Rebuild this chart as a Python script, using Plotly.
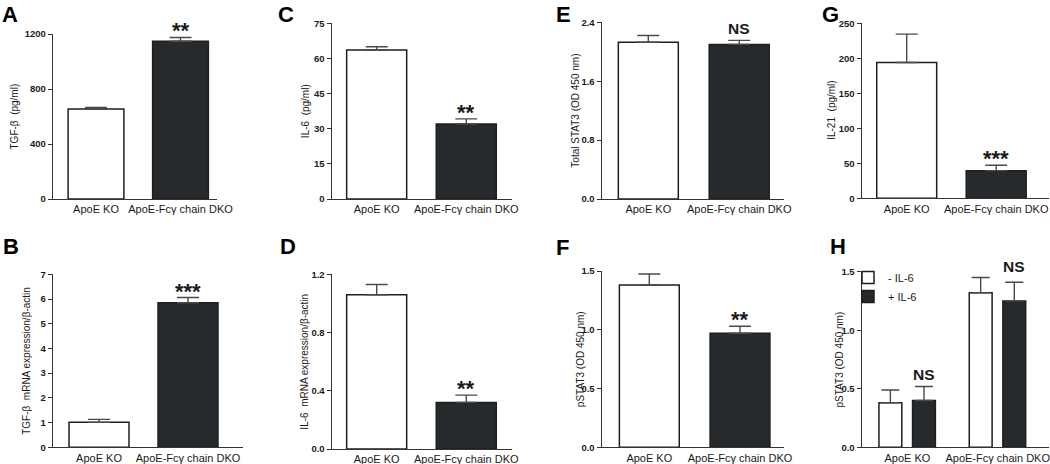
import plotly.graph_objects as go

# ---------------- data ----------------
categories = ["ApoE KO", "ApoE-Fcγ chain DKO"]

tgfb_protein = [655, 1147]          # A  TGF-β (pg/ml)
tgfb_protein_err = [10, 28]
tgfb_mrna = [1.01, 5.85]            # B  TGF-β mRNA expression/β-actin
tgfb_mrna_err = [0.12, 0.21]
il6_protein = [63.6, 32.0]          # C  IL-6 (pg/ml)
il6_protein_err = [1.4, 2.2]
il6_mrna = [1.06, 0.32]             # D  IL-6 mRNA expression/β-actin
il6_mrna_err = [0.07, 0.05]
total_stat3 = [2.13, 2.10]          # E  Total STAT3 (OD 450 nm)
total_stat3_err = [0.09, 0.055]
pstat3 = [1.38, 0.97]               # F  pSTAT3 (OD 450 nm)
pstat3_err = [0.095, 0.06]
il21 = [194, 39.5]                  # G  IL-21 (pg/ml)
il21_err = [40.6, 7.7]
h_series = ["- IL-6", "+ IL-6"]     # H  pSTAT3 (OD 450 nm)
pstat3_minus_il6 = [0.38, 1.32]
pstat3_minus_il6_err = [0.11, 0.13]
pstat3_plus_il6 = [0.40, 1.25]
pstat3_plus_il6_err = [0.12, 0.16]

sig_A, sig_B, sig_C, sig_D = "**", "***", "**", "**"
sig_E, sig_F, sig_G = "NS", "**", "***"
sig_H = ["NS", "NS"]

ticks_A = [0, 400, 800, 1200]
ticks_B = [0, 1, 2, 3, 4, 5, 6, 7]
ticks_C = [0, 15, 30, 45, 60, 75]
ticks_D = [0.0, 0.4, 0.8, 1.2]
ticks_E = [0.0, 0.8, 1.6, 2.4]
ticks_F = [0.0, 0.5, 1.0, 1.5]
ticks_G = [0, 50, 100, 150, 200, 250]
ticks_H = [0.0, 0.5, 1.0, 1.5]

# ---------------- style ----------------
W, H = 1050, 464
FONT = "Liberation Sans, Arial, Helvetica, sans-serif"
WHITE = "#ffffff"
DARK = "#262a2c"
EDGE = "#1e1e1e"
ERRC = "#4a4a4a"
AXC = "#333333"
TXT = "#1a1a1a"


def px_x(v):
    return v / W


def px_y(v):
    return 1 - v / H


# box = (left, right, top, bottom) of the plot area in px; lp = (left, top) of panel letter box in px
panels = [
    dict(letter="A", vals=tgfb_protein, errs=tgfb_protein_err, sig=sig_A, ticks=ticks_A, fmt="d",
         title="TGF-β  (pg/ml)", box=(53, 217, 34, 199), xr=(-0.509, 1.432), bw=0.66,
         tx=14, lp=(0, 0)),
    dict(letter="B", vals=tgfb_mrna, errs=tgfb_mrna_err, sig=sig_B, ticks=ticks_B, fmt="d",
         title="TGF-β  mRNA expression/β-actin", box=(53, 243, 274.3, 447.3), xr=(-0.517, 1.618), bw=0.674,
         tx=27, lp=(1, 232)),
    dict(letter="C", vals=il6_protein, errs=il6_protein_err, sig=sig_C, ticks=ticks_C, fmt="d",
         title="IL-6  (pg/ml)", box=(331.7, 511.7, 23.3, 199), xr=(-0.502, 1.507), bw=0.67,
         tx=305, lp=(276, 0)),
    dict(letter="D", vals=il6_mrna, errs=il6_mrna_err, sig=sig_D, ticks=ticks_D, fmt=".1f",
         title="IL-6  mRNA expression/β-actin", box=(331.7, 511.7, 274.3, 449), xr=(-0.502, 1.507), bw=0.67,
         tx=305, lp=(278, 232)),
    dict(letter="E", vals=total_stat3, errs=total_stat3_err, sig=sig_E, ticks=ticks_E, fmt=".1f",
         title="Total STAT3 (OD 450 nm)", box=(601.7, 784, 22.3, 199), xr=(-0.513, 1.493), bw=0.66,
         tx=576, lp=(554, 0)),
    dict(letter="F", vals=pstat3, errs=pstat3_err, sig=sig_F, ticks=ticks_F, fmt=".1f",
         title="pSTAT3 (OD 450 nm)", box=(601.7, 784, 271, 447.3), xr=(-0.525, 1.485), bw=0.66,
         tx=580, lp=(554, 233)),
    dict(letter="G", vals=il21, errs=il21_err, sig=sig_G, ticks=ticks_G, fmt="d",
         title="IL-21  (pg/ml)", box=(861.7, 1049, 23.3, 198.3), xr=(-0.503, 1.59), bw=0.67,
         tx=832, lp=(820, 0)),
    dict(letter="H", vals=None, errs=None, sig=None, ticks=ticks_H, fmt=".1f",
         title="pSTAT3 (OD 450 nm)", box=(861.7, 1049, 271.7, 447.3), xr=(-0.506, 1.568), bw=0.253,
         tx=839, lp=(828, 232)),
]

fig = go.Figure()
annotations = []
layout = {}

for i, p in enumerate(panels, start=1):
    sfx = "" if i == 1 else str(i)
    xname, yname = "x" + sfx, "y" + sfx
    left, right, top, bottom = p["box"]
    ymax = p["ticks"][-1]

    layout["xaxis" + sfx] = dict(
        domain=[px_x(left), px_x(right)], anchor=yname, type="category",
        categoryorder="array", categoryarray=categories,
        range=list(p["xr"]), showline=True, linecolor=AXC, linewidth=1.4,
        ticks="", showgrid=False, zeroline=False, automargin=False,
        tickfont=dict(family=FONT, size=11, color=TXT), fixedrange=True,
    )
    layout["yaxis" + sfx] = dict(
        domain=[px_y(bottom), px_y(top)], anchor=xname, range=[0, ymax],
        tickmode="array", tickvals=p["ticks"], tickformat=p["fmt"],
        showline=True, linecolor=AXC, linewidth=1.4, ticks="outside", automargin=False,
        ticklen=4, tickwidth=1.4, tickcolor=AXC, showgrid=False, zeroline=False,
        tickfont=dict(family=FONT, size=9.5, color=TXT, weight="bold"), fixedrange=True,
    )

    err_style = dict(type="data", symmetric=False, color=ERRC, thickness=1.4)

    if p["vals"] is not None:
        fig.add_trace(go.Bar(
            x=categories, y=p["vals"], width=[p["bw"]] * len(categories),
            marker=dict(color=[WHITE, DARK], line=dict(color=EDGE, width=1.5)),
            error_y=dict(array=p["errs"], arrayminus=[0] * len(p["errs"]), width=11, **err_style),
            xaxis=xname, yaxis=yname, showlegend=False, hoverinfo="x+y",
        ))
        top_val = p["vals"][1] + p["errs"][1]
        is_star = "*" in p["sig"]
        annotations.append(dict(
            x=categories[1], y=top_val, xref=xname, yref=yname,
            text=p["sig"], showarrow=False, xanchor="center", yanchor="bottom",
            yshift=-8 if is_star else 1,
            font=dict(family=FONT, size=22 if is_star else 15.5, color=TXT, weight="bold"),
        ))
    else:
        offsets = [-0.315, 0.057]
        for name, vals, errs, col, off in zip(
            h_series, [pstat3_minus_il6, pstat3_plus_il6],
            [pstat3_minus_il6_err, pstat3_plus_il6_err], [WHITE, DARK], offsets,
        ):
            fig.add_trace(go.Bar(
                x=categories, y=vals, name=name, width=p["bw"], offset=off,
                marker=dict(color=col, line=dict(color=EDGE, width=1.5)),
                error_y=dict(array=errs, arrayminus=[0] * len(errs), width=9, **err_style),
                xaxis=xname, yaxis=yname, showlegend=True, hoverinfo="x+y+name",
            ))
        for k, lab in enumerate(sig_H):
            top_val = max(pstat3_minus_il6[k] + pstat3_minus_il6_err[k],
                          pstat3_plus_il6[k] + pstat3_plus_il6_err[k])
            annotations.append(dict(
                x=k + offsets[1] + p["bw"] / 2, y=top_val, xref=xname, yref=yname,
                text=lab, showarrow=False, xanchor="center", yanchor="bottom", yshift=1,
                font=dict(family=FONT, size=15.5, color=TXT, weight="bold"),
            ))

    annotations.append(dict(
        x=px_x(p["tx"]), y=px_y((top + bottom) / 2), xref="paper", yref="paper",
        text=p["title"], textangle=-90, showarrow=False, xanchor="center", yanchor="middle",
        font=dict(family=FONT, size=10, color=TXT),
    ))
    annotations.append(dict(
        x=px_x(p["lp"][0]), y=px_y(p["lp"][1]), xref="paper", yref="paper",
        text=p["letter"], showarrow=False, xanchor="left", yanchor="top",
        font=dict(family=FONT, size=22, color="#000000", weight="bold"),
    ))

fig.update_layout(
    width=W, height=H, margin=dict(l=0, r=0, t=0, b=0, autoexpand=False),
    paper_bgcolor="white", plot_bgcolor="white",
    font=dict(family=FONT, color=TXT),
    annotations=annotations,
    legend=dict(x=px_x(848), y=px_y(263), xanchor="left", yanchor="top",
                font=dict(family=FONT, size=11, color=TXT), bgcolor="rgba(0,0,0,0)",
                tracegroupgap=0, itemwidth=30),
    **layout,
)

fig.write_html(
    "out.html",
    config={"displayModeBar": False},
    post_script="document.body.style.margin='0';document.body.style.overflow='hidden';"
                "document.documentElement.style.overflow='hidden';",
)
